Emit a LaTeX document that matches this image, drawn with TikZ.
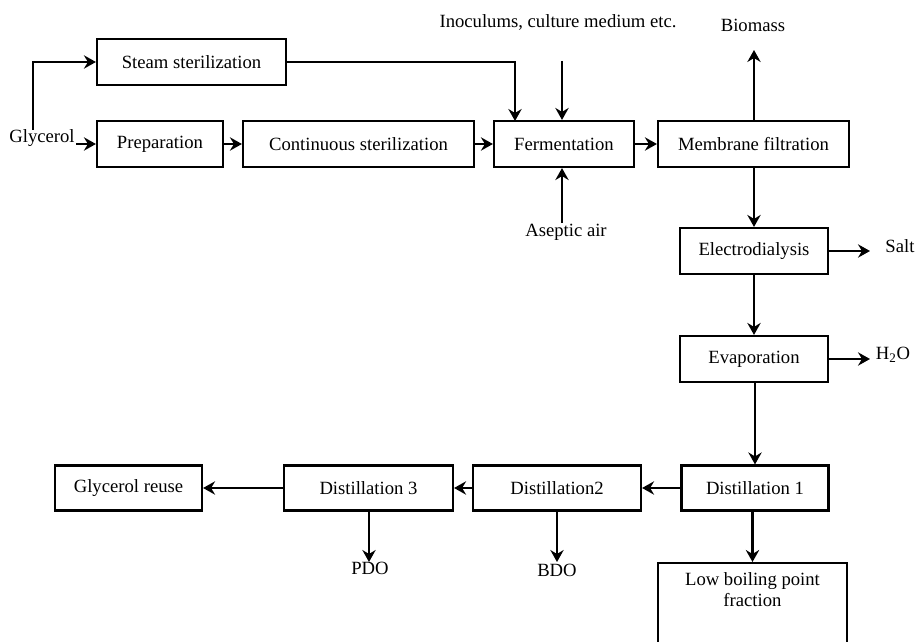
\documentclass[tikz,border=0pt]{standalone}
\usepackage{fontspec}
\setmainfont{Liberation Serif}
\usetikzlibrary{arrows.meta}
\begin{document}
\begin{tikzpicture}[x=0.75pt,y=-0.75pt,
  box/.style={draw, line width=1.6pt, minimum height=34.5pt, inner sep=2pt, font=\fontsize{14}{16}\selectfont},
  lbl/.style={inner sep=1pt, font=\fontsize{14}{16}\selectfont},
  arr/.style={line width=1.6pt, -{Stealth[length=9pt,width=10pt,inset=3pt]}},
  ln/.style={line width=1.6pt}]
\clip (0,0) rectangle (918,642);
\fill[white] (0,0) rectangle (918,642);
% boxes
\node[box, minimum width=141.75pt] (steam) at (191.5,62) {Steam sterilization};
\node[box, minimum width=94.5pt] (prep) at (160,144) {Preparation};
\node[box, minimum width=173.25pt] (cont) at (358.5,144) {Continuous sterilization};
\node[box, minimum width=105pt] (ferm) at (564,144) {Fermentation};
\node[box, minimum width=143.25pt] (memb) at (753.5,144) {Membrane filtration};
\node[box, minimum width=111pt] (elec) at (754,251) {Electrodialysis};
\node[box, minimum width=111pt] (evap) at (754,359) {Evaporation};
\node[box, minimum width=110.25pt, minimum height=33.75pt] (dist1) at (755,488) {Distillation 1};
\node[box, minimum width=126pt, minimum height=33.75pt] (dist2) at (557,488) {Distillation2};
\node[box, minimum width=126.75pt, minimum height=33.75pt] (dist3) at (368.5,488) {Distillation 3};
\node[box, minimum width=110.25pt, minimum height=33.75pt] (reuse) at (128.5,488) {Glycerol reuse};
\node[box, anchor=north, minimum width=141.75pt, minimum height=75pt] (low) at (752.5,562) {};
\node[lbl, align=center, anchor=north] (lowtxt) at (752.5,571) {Low boiling point\\fraction};
% labels
\node[lbl] (glyc) at (42,138) {Glycerol};
\node[lbl] (inoc) at (558,22) {Inoculums, culture medium etc.};
\node[lbl] (bio) at (753,25) {Biomass};
\node[lbl] (air) at (566,232) {Aseptic air};
\node[lbl] (salt) at (900,246) {Salt};
\node[lbl] (water) at (893,355) {H\textsubscript{2}O};
\node[lbl] (pdo) at (370,568) {PDO};
\node[lbl] (bdo) at (557,570) {BDO};
% coordinates
\coordinate (glytop) at (33,130);
\coordinate (inocstart) at (562,61);
\coordinate (steamin) at (515,121);
\coordinate (airstart) at (562,223);
\coordinate (bioend) at (754,50);
\coordinate (saltend) at (870,251);
\coordinate (waterend) at (870,359);
\coordinate (pdoend) at (369,562);
\coordinate (bdoend) at (557,562);
% connectors
\draw[arr] (glytop) |- (steam.west);
\draw[arr] (glyc.east |- prep.west) -- (prep.west);
\draw[arr] (prep) -- (cont);
\draw[arr] (cont) -- (ferm);
\draw[arr] (ferm) -- (memb);
\draw[arr] (steam.east) -| (steamin);
\draw[arr] (inocstart) -- (inocstart |- ferm.north);
\draw[arr] (airstart) -- (airstart |- ferm.south);
\draw[arr] (memb.north -| bioend) -- (bioend);
\draw[arr] (memb.south -| elec.north) -- (elec.north);
\draw[arr] (elec.east) -- (saltend);
\draw[arr] (elec.south) -- (evap.north);
\draw[arr] (evap.east) -- (waterend);
\draw[arr] (evap.south -| dist1.north) -- (dist1.north);
\draw[arr] (dist1) -- (dist2);
\draw[arr] (dist2) -- (dist3);
\draw[arr] (dist3) -- (reuse);
\draw[arr] (dist3.south -| pdoend) -- (pdoend);
\draw[arr] (dist2.south) -- (bdoend);
\draw[arr] (dist1.south -| low.north) -- (low.north);
\end{tikzpicture}
\end{document}
